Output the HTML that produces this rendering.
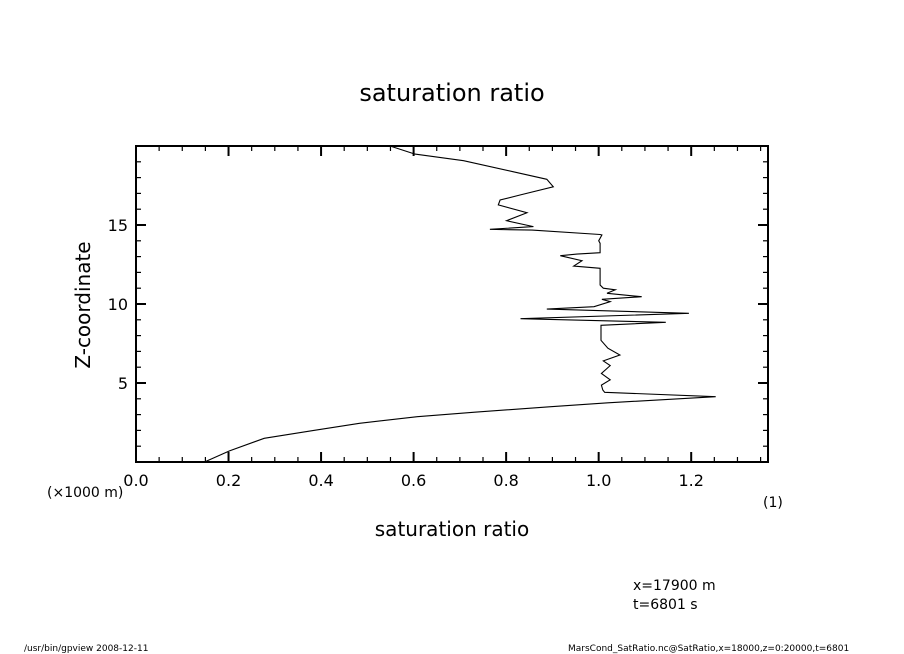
<!DOCTYPE html>
<html><head><meta charset="utf-8"><style>
html,body{margin:0;padding:0;background:#fff;}
svg{display:block;font-family:"DejaVu Sans","Liberation Sans",sans-serif;}
</style></head><body>
<svg id="chart" width="904" height="654" viewBox="0 0 904 654">
<text x="452" y="101" font-size="24" text-anchor="middle">saturation ratio</text>
<g id="axes"></g>
<path id="curve" fill="none" stroke="#000" stroke-width="1.1"/>
<rect x="136" y="146" width="632" height="316" fill="none" stroke="#000" stroke-width="2"/>
<text x="90" y="305" font-size="20" text-anchor="middle" transform="rotate(-90 90 305)">Z-coordinate</text>
<text x="47" y="497" font-size="14">(×1000 m)</text>
<text x="763" y="507" font-size="14">(1)</text>
<text x="452" y="536" font-size="20" text-anchor="middle">saturation ratio</text>
<text x="633" y="590" font-size="14">x=17900 m</text>
<text x="633" y="609" font-size="14">t=6801 s</text>
<text x="24" y="651" font-size="9">/usr/bin/gpview  2008-12-11</text>
<text x="568" y="651" font-size="9">MarsCond_SatRatio.nc@SatRatio,x=18000,z=0:20000,t=6801</text>
</svg>
<script>
const xTicks = [0.0, 0.2, 0.4, 0.6, 0.8, 1.0, 1.2];
const xTickLabels = ["0.0", "0.2", "0.4", "0.6", "0.8", "1.0", "1.2"];
const yTicks = [5, 10, 15];
const yTickLabels = ["5", "10", "15"];
const ratio = [0.148,0.202,0.277,0.384,0.483,0.608,0.732,0.897,1.02,1.253,1.013,1.009,1.006,1.025,1.006,1.025,1.01,1.046,1.02,1.005,1.005,1.145,0.884,0.831,1.195,0.888,0.99,1.025,1.007,1.093,1.018,1.036,1.01,1.003,1.003,0.946,0.964,0.917,0.953,1.003,1.003,1.0,1.007,1.003,0.856,0.765,0.859,0.801,0.845,0.783,0.787,0.830,0.902,0.888,0.816,0.708,0.603,0.549];
const zKm = [0,0.7,1.5,2.0,2.45,2.87,3.15,3.5,3.75,4.13,4.41,4.56,4.87,5.2,5.6,6.1,6.4,6.77,7.2,7.7,8.65,8.84,9.03,9.07,9.41,9.68,9.83,10.15,10.3,10.46,10.68,10.9,11.0,11.2,12.26,12.4,12.74,13.06,13.16,13.25,13.84,14.0,14.37,14.4,14.68,14.73,14.9,15.27,15.78,16.27,16.58,16.9,17.42,17.89,18.37,19.07,19.49,20];
const X0=136, X1=768, Y0=462, Y1=146, XMAX=1.366, ZMAX=20;
const sx = v => X0 + v/XMAX*(X1-X0);
const sy = z => Y0 - z/ZMAX*(Y0-Y1);
const NS="http://www.w3.org/2000/svg";
const axes=document.getElementById('axes');
function line(x1,y1,x2,y2,w,name){
  const l=document.createElementNS(NS,'line');
  l.setAttribute('x1',x1);l.setAttribute('y1',y1);l.setAttribute('x2',x2);l.setAttribute('y2',y2);
  l.setAttribute('stroke','#000');l.setAttribute('stroke-width',w);
  
  
  axes.appendChild(l);
}
function text(x,y,s,anchor,name){
  const t=document.createElementNS(NS,'text');
  t.setAttribute('x',x);t.setAttribute('y',y);t.setAttribute('font-size','16');t.setAttribute('text-anchor',anchor);
  t.textContent=s;
  
  
  axes.appendChild(t);
}
for(let v=0; v<=XMAX+1e-9; v+=0.05){
  const major=Math.abs(v/0.2-Math.round(v/0.2))<1e-6;
  const L=major?10:5, x=sx(v);
  line(x,Y0,x,Y0-L,major?2:1.2,'x-tick');
  line(x,Y1,x,Y1+L,major?2:1.2,'x-tick-top');
}
xTicks.forEach((v,i)=>text(sx(v),Y0+24,xTickLabels[i],'middle','x-tick-label'));
for(let z=1; z<ZMAX; z++){
  const major=z%5===0, L=major?10:5, y=sy(z);
  line(X0,y,X0+L,y,major?2:1.2,'y-tick');
  line(X1,y,X1-L,y,major?2:1.2,'y-tick-right');
}
yTicks.forEach((z,i)=>text(X0-8,sy(z)+6,yTickLabels[i],'end','y-tick-label'));
document.getElementById('curve').setAttribute('d', ratio.map((v,i)=>(i?'L':'M')+sx(v).toFixed(1)+','+sy(zKm[i]).toFixed(1)).join(' '));
</script>
</body></html>
